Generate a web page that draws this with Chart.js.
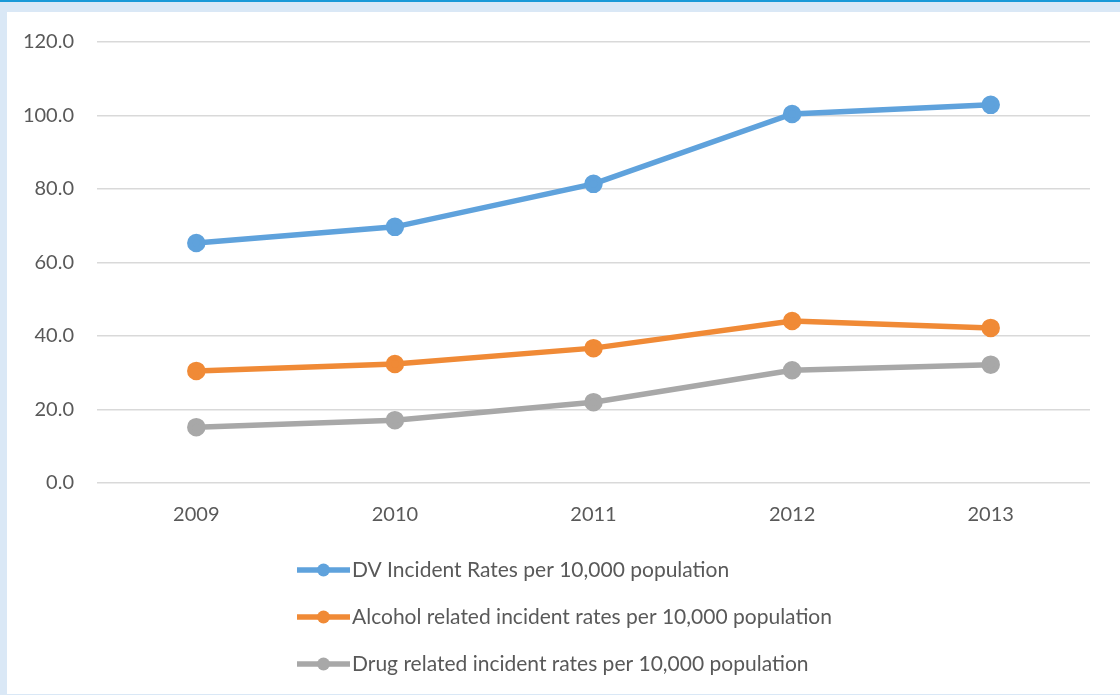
<!DOCTYPE html>
<html>
<head>
<meta charset="utf-8">
<script src="https://cdn.jsdelivr.net/npm/chart.js@4.4.1/dist/chart.umd.min.js"></script>
<style>
  html, body { margin: 0; padding: 0; }
  body {
    width: 1120px; height: 695px; overflow: hidden;
    background: #dae8f6;
    position: relative;
  }
  #topline { position: absolute; left: 0; top: 0; width: 1120px; height: 2px; background: #1b9ad8; }
  #panel {
    position: absolute; left: 7px; top: 12px; width: 1113px; height: 682px;
    background: #ffffff;
  }
  canvas { display: block; }
</style>
</head>
<body>
<div id="topline"></div>
<div id="panel"><canvas id="chart" width="1113" height="682"></canvas></div>
<script>
// Incident rates per 10,000 population, 2009-2013
const years = ['2009', '2010', '2011', '2012', '2013'];
const dvRates = [65.3, 69.7, 81.4, 100.4, 102.9];
const alcoholRates = [30.5, 32.4, 36.7, 44.1, 42.2];
const drugRates = [15.2, 17.1, 22.0, 30.7, 32.2];
const seriesLabels = [
  'DV Incident Rates per 10,000 population',
  'Alcohol related incident rates per 10,000 population',
  'Drug related incident rates per 10,000 population'
];
const seriesColors = ['#5fa2dc', '#f08a36', '#a8a8a8'];

const FONT = 'Lato, "Open Sans", sans-serif';

function lineSet(label, data, color) {
  return {
    label, data,
    borderColor: color, backgroundColor: color,
    pointBackgroundColor: color, pointBorderColor: color,
    borderWidth: 5.5, pointRadius: 6.5, pointHoverRadius: 6.5,
    tension: 0
  };
}

// Vertical legend under the plot: line with a marker, then the label
const stackedLegend = {
  id: 'stackedLegend',
  afterDraw(chart) {
    const ctx = chart.ctx;
    const x0 = 290, x1 = 343, textX = 345;
    const rowY = [558, 605, 652];
    ctx.save();
    chart.data.datasets.forEach((ds, i) => {
      const y = rowY[i];
      ctx.strokeStyle = ds.borderColor;
      ctx.lineWidth = 5.5;
      ctx.beginPath();
      ctx.moveTo(x0, y);
      ctx.lineTo(x1, y);
      ctx.stroke();
      ctx.fillStyle = ds.borderColor;
      ctx.beginPath();
      ctx.arc((x0 + x1) / 2, y, 6.5, 0, Math.PI * 2);
      ctx.fill();
      ctx.fillStyle = '#595959';
      ctx.font = '21px ' + FONT;
      ctx.textBaseline = 'middle';
      ctx.textAlign = 'left';
      ctx.fillText(ds.label, textX, y);
    });
    ctx.restore();
  }
};

new Chart(document.getElementById('chart'), {
  type: 'line',
  data: {
    labels: years,
    datasets: [
      lineSet(seriesLabels[0], dvRates, seriesColors[0]),
      lineSet(seriesLabels[1], alcoholRates, seriesColors[1]),
      lineSet(seriesLabels[2], drugRates, seriesColors[2])
    ]
  },
  options: {
    responsive: false,
    animation: false,
    events: [],
    layout: { padding: { top: 30, right: 30, bottom: 155, left: 0 } },
    plugins: { legend: { display: false }, tooltip: { enabled: false } },
    scales: {
      x: {
        offset: true,
        grid: { display: false },
        border: { display: false },
        ticks: { color: '#595959', font: { family: FONT, size: 20 }, padding: 12 }
      },
      y: {
        min: 0, max: 120,
        afterFit(scale) {
          // fixed axis width; let the layout padding alone set the plot top
          scale.width = 90;
          scale.paddingTop = 0;
          scale.paddingBottom = 0;
        },
        grid: { color: '#d9d9d9', lineWidth: 1.5, drawTicks: false },
        border: { display: false },
        ticks: {
          stepSize: 20, padding: 23,
          color: '#595959', font: { family: FONT, size: 20 },
          callback: v => Number(v).toFixed(1)
        }
      }
    }
  },
  plugins: [stackedLegend]
});
</script>
</body>
</html>
